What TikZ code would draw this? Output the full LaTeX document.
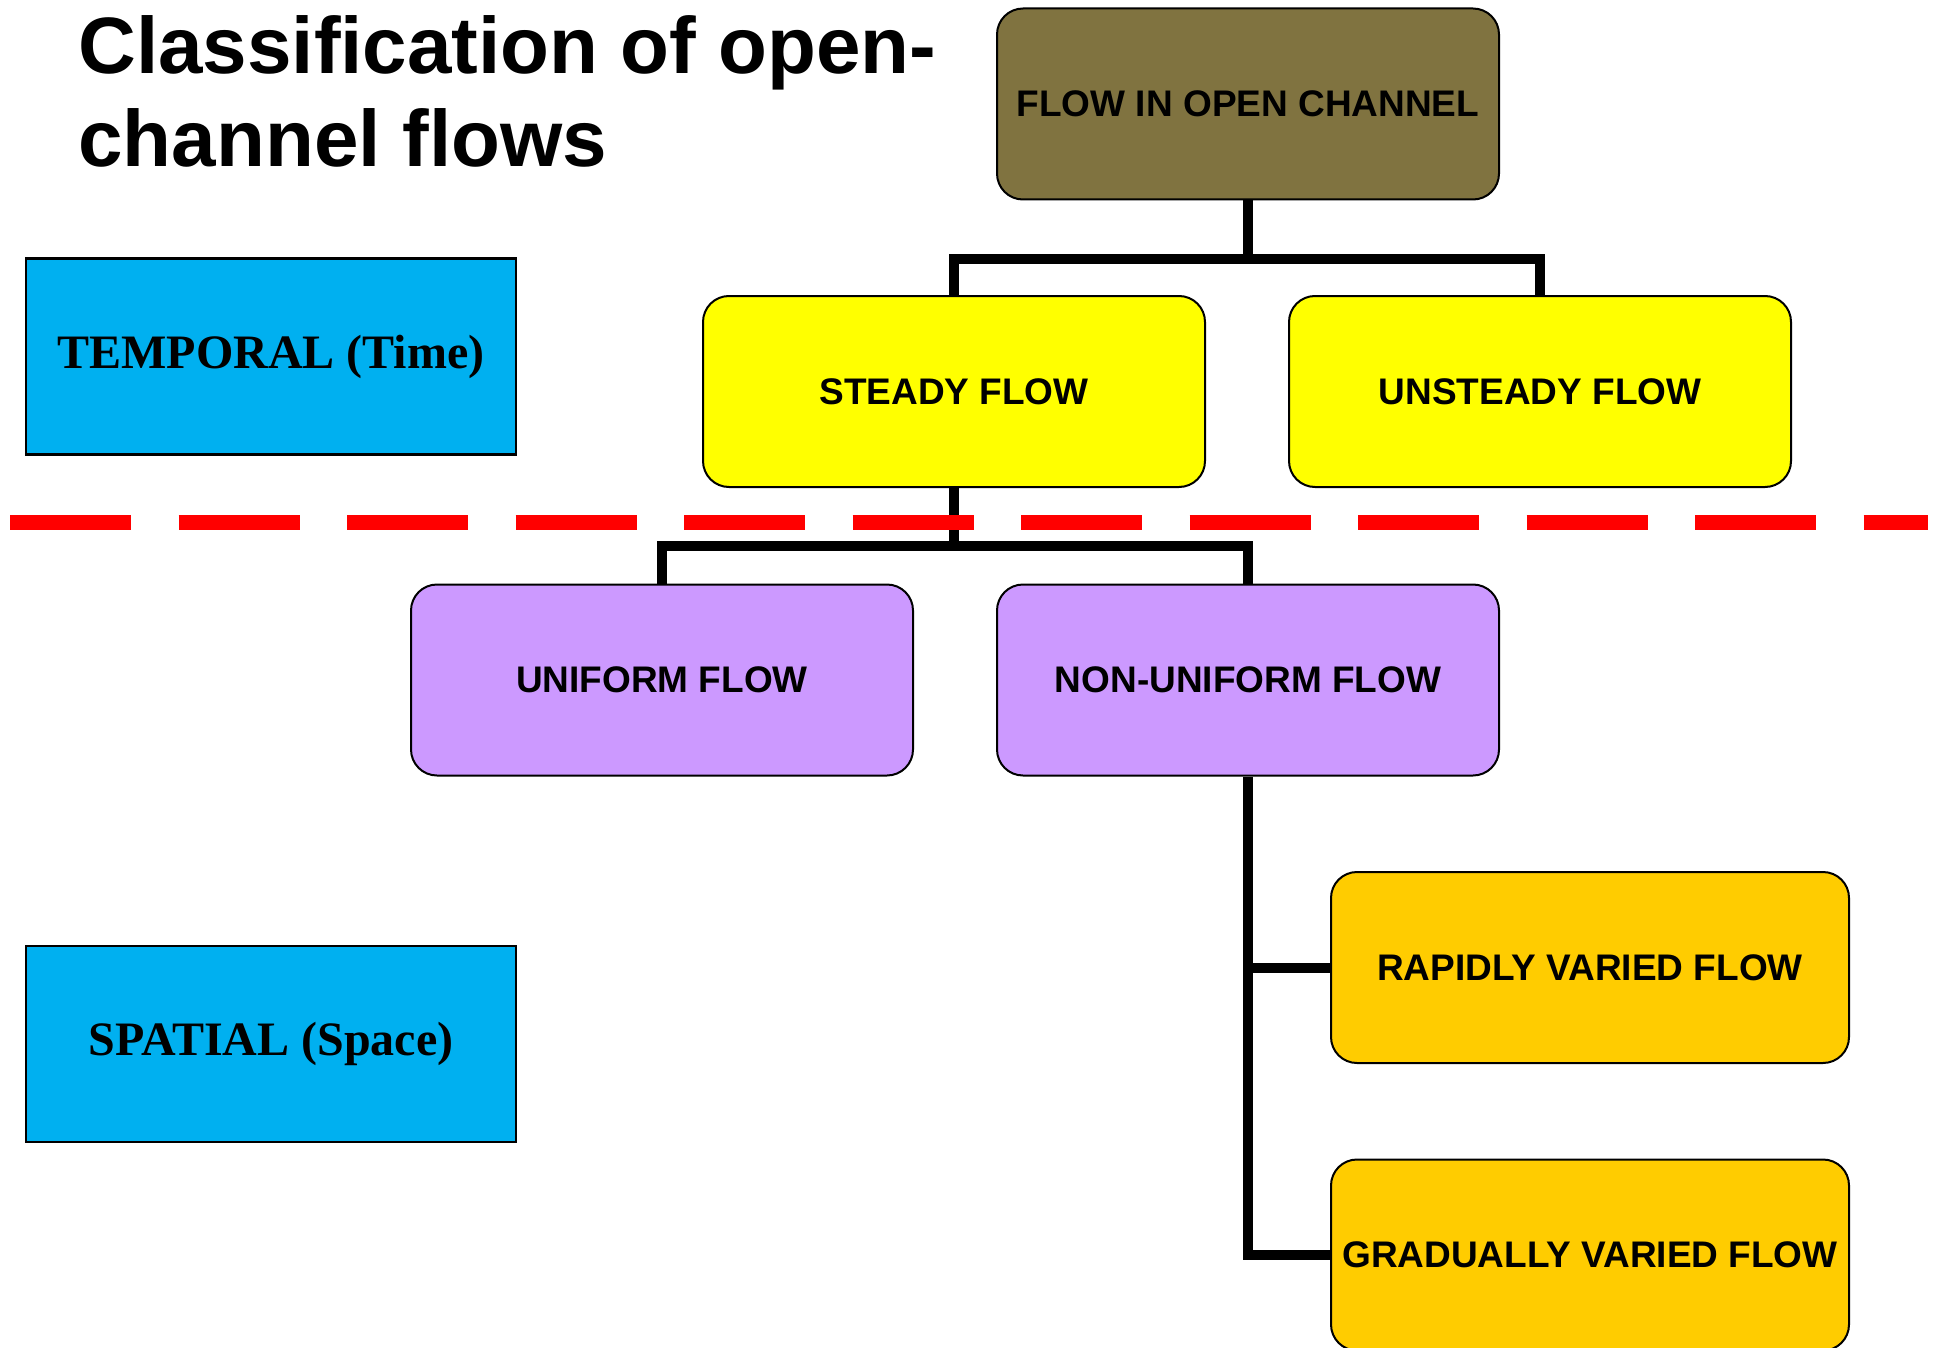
\documentclass[tikz,border=0pt]{standalone}
\usepackage{fontspec}
\setmainfont{Liberation Sans}
\newfontfamily\serifbox{Liberation Serif}
\definecolor{olivebox}{RGB}{128,115,64}
\definecolor{yellowbox}{RGB}{255,255,0}
\definecolor{purplebox}{RGB}{204,153,255}
\definecolor{orangebox}{RGB}{255,204,0}
\definecolor{cyanbox}{RGB}{0,176,240}
\tikzset{
  flowbox/.style={draw=black, line width=1pt, rounded corners=13pt, inner sep=0pt,
    minimum width=251pt, minimum height=95.5pt, font=\fontsize{18.5}{22}\selectfont\bfseries},
  sidebox/.style={draw=black, line width=1.2pt, fill=cyanbox, inner sep=0pt,
    minimum width=245pt, minimum height=98pt, font=\fontsize{24}{28}\selectfont\serifbox\bfseries},
  conn/.style={line width=5pt, black},
  divider/.style={line width=7.5pt, red, dash pattern=on 60.5pt off 23.75pt}
}
\begin{document}
\begin{tikzpicture}[x=0.5pt,y=-0.5pt]
\useasboundingbox[fill=white] (0,0) rectangle (1942,1348);
% title
\node[anchor=base west, inner sep=0pt, font=\fontsize{40}{46}\selectfont\bfseries] (t1) at (78,74) {Classification of open-};
\node[anchor=base west, inner sep=0pt, font=\fontsize{40}{46}\selectfont\bfseries] (t2) at (78,167) {channel flows};
% boxes
\node[flowbox, fill=olivebox] (top) at (1248,104) {FLOW IN OPEN CHANNEL};
\node[flowbox, fill=yellowbox] (steady) at (954,391.5) {STEADY FLOW};
\node[flowbox, fill=yellowbox] (unsteady) at (1540,391.5) {UNSTEADY FLOW};
\node[flowbox, fill=purplebox] (uniform) at (662,680) {UNIFORM FLOW};
\node[flowbox, fill=purplebox] (nonuniform) at (1248,680) {NON-UNIFORM FLOW};
\node[flowbox, fill=orangebox, minimum width=259pt] (rapid) at (1590,967.5) {RAPIDLY VARIED FLOW};
\node[flowbox, fill=orangebox, minimum width=259pt] (grad) at (1590,1255) {GRADUALLY VARIED FLOW};
\node[sidebox] (temporal) at (271,356.5) {\raisebox{-2pt}{TEMPORAL (Time)}};
\node[sidebox] (spatial) at (271,1044) {\raisebox{-2pt}{SPATIAL (Space)}};
% connectors
\coordinate (b1) at (0,259);
\coordinate (b2) at (0,546);
\draw[conn] (top.south) -- (top.south |- b1);
\draw[conn] (steady.north) -- (steady.north |- b1) -- (unsteady.north |- b1) -- (unsteady.north);
\draw[conn] (steady.south) -- (steady.south |- b2);
\draw[conn] (uniform.north) -- (uniform.north |- b2) -- (nonuniform.north |- b2) -- (nonuniform.north);
\draw[conn] (nonuniform.south) -- (nonuniform.south |- grad.west) -- (grad.west);
\draw[conn] (nonuniform.south |- rapid.west) -- (rapid.west);
% divider
\coordinate (dl) at (10,522);
\coordinate (dr) at (1928,522);
\draw[divider] (dl) -- (dr);
\end{tikzpicture}
\end{document}
